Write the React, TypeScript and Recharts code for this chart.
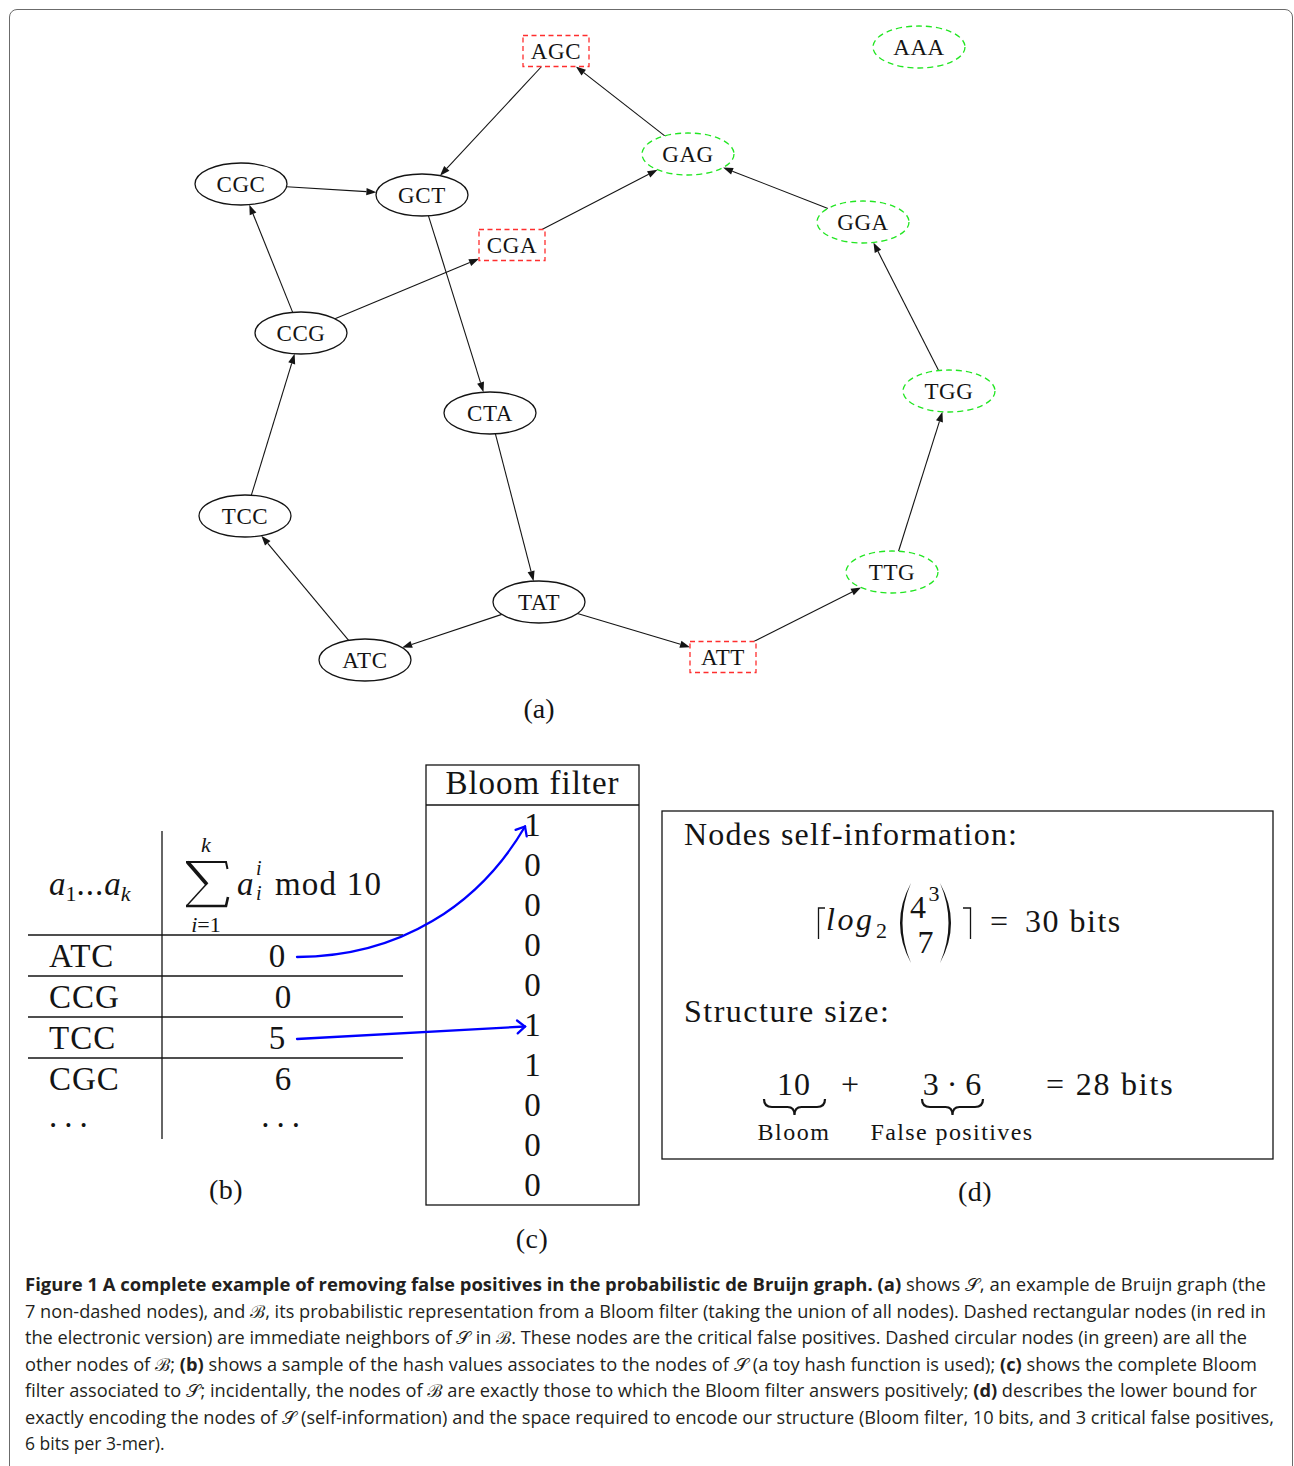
import React from 'react'
import { ScatterChart, Scatter, XAxis, YAxis, ReferenceLine } from 'recharts'

// (a) de Bruijn graph: node labels and their layout position in the figure
const nodeNames = ['AGC', 'AAA', 'GAG', 'CGC', 'GCT', 'CGA', 'GGA', 'CCG', 'TGG', 'CTA', 'TCC', 'TTG', 'TAT', 'ATC', 'ATT']
const nodeX = [556, 919, 688, 241, 422, 512, 863, 301, 949, 490, 245, 892, 539, 365, 723]
const nodeY = [51, 47, 154, 184, 195, 245, 222, 333, 391, 413, 516, 572, 602, 660, 657]
// S = node of S, C = critical false positive, B = other node of B
const nodeKinds = ['C', 'B', 'B', 'S', 'S', 'C', 'B', 'S', 'B', 'S', 'S', 'B', 'S', 'S', 'C']
const edges = [
  ['AGC', 'GCT'], ['GAG', 'AGC'], ['CGC', 'GCT'], ['CGA', 'GAG'], ['GGA', 'GAG'],
  ['CCG', 'CGC'], ['CCG', 'CGA'], ['GCT', 'CTA'], ['TGG', 'GGA'], ['TCC', 'CCG'],
  ['CTA', 'TAT'], ['ATC', 'TCC'], ['TAT', 'ATC'], ['TAT', 'ATT'], ['ATT', 'TTG'], ['TTG', 'TGG'],
]

// (b) hash table sample
const tableKmers = ['ATC', 'CCG', 'TCC', 'CGC']
const tableHashes = [0, 0, 5, 6]
const arrowRows = [0, 2]

// (c) Bloom filter bits
const bloomBits = [1, 0, 0, 0, 0, 1, 1, 0, 0, 0]

// caption, line by line: [text, bold]
const captionLines: [string, boolean][][] = [
  [['Figure 1 A complete example of removing false positives in the probabilistic de Bruijn graph.', true], [' ', false], ['(a)', true], [' shows 𝒮, an example de Bruijn graph (the', false]],
  [['7 non-dashed nodes), and ℬ, its probabilistic representation from a Bloom filter (taking the union of all nodes). Dashed rectangular nodes (in red in', false]],
  [['the electronic version) are immediate neighbors of 𝒮 in ℬ. These nodes are the critical false positives. Dashed circular nodes (in green) are all the', false]],
  [['other nodes of ℬ; ', false], ['(b)', true], [' shows a sample of the hash values associates to the nodes of 𝒮 (a toy hash function is used); ', false], ['(c)', true], [' shows the complete Bloom', false]],
  [['filter associated to 𝒮; incidentally, the nodes of ℬ are exactly those to which the Bloom filter answers positively; ', false], ['(d)', true], [' describes the lower bound for', false]],
  [['exactly encoding the nodes of 𝒮 (self-information) and the space required to encode our structure (Bloom filter, 10 bits, and 3 critical false positives,', false]],
  [['6 bits per 3-mer).', false]],
]
const captionRightEdge = [1266, 1266, 1247, 1257, 1257, 1274, 0]

const SERIF = '"Liberation Serif", "DejaVu Serif", serif'
const SANS = '"Open Sans", "Noto Sans", sans-serif'
const INK = '#141414'
const RED = '#ff2e2e'
const GREEN = '#22e622'

const RX = 46
const RY = 21
const RW = 66
const RH = 31

// distance from node centre to its outline along unit direction (ux, uy)
function outlineDist(kind: string, ux: number, uy: number) {
  if (kind === 'C') {
    return Math.min(RW / 2 / Math.max(Math.abs(ux), 1e-6), RH / 2 / Math.max(Math.abs(uy), 1e-6))
  }
  return 1 / Math.sqrt((ux / RX) ** 2 + (uy / RY) ** 2)
}

const NodeShape = (props: any) => {
  const { cx, cy, payload } = props
  const kind = payload.kind
  return (
    <g>
      {kind === 'C' ? (
        <rect x={cx - RW / 2} y={cy - RH / 2} width={RW} height={RH} fill="#fff"
          stroke={RED} strokeWidth={1.3} strokeDasharray="5 3.5" />
      ) : (
        <ellipse cx={cx} cy={cy} rx={RX} ry={RY} fill="#fff"
          stroke={kind === 'B' ? GREEN : INK} strokeWidth={1.3}
          strokeDasharray={kind === 'B' ? '6 4' : undefined} />
      )}
      <text x={cx} y={cy + 8} textAnchor="middle" fontFamily={SERIF} fontSize={23}
        letterSpacing={0.6} fill={INK}>{payload.name}</text>
    </g>
  )
}

const edgeShape = (fromKind: string, toKind: string) => (p: any) => {
  const { x1, y1, x2, y2 } = p
  const dx = x2 - x1
  const dy = y2 - y1
  const len = Math.hypot(dx, dy)
  const ux = dx / len
  const uy = dy / len
  const s = outlineDist(fromKind, ux, uy)
  const e = outlineDist(toKind, ux, uy)
  const sx = x1 + ux * s
  const sy = y1 + uy * s
  const tx = x2 - ux * e
  const ty = y2 - uy * e
  const bx = tx - ux * 10
  const by = ty - uy * 10
  return (
    <g>
      <line x1={sx} y1={sy} x2={bx} y2={by} stroke={INK} strokeWidth={1.1} />
      <polygon points={`${tx},${ty} ${bx - uy * 3.6},${by + ux * 3.6} ${bx + uy * 3.6},${by - ux * 3.6}`} fill={INK} />
    </g>
  )
}

const BitShape = (props: any) => {
  const { cx, cy, payload } = props
  return (
    <text x={cx} y={cy + 10.5} textAnchor="middle" fontFamily={SERIF} fontSize={33} fill={INK}>
      {payload.bit}
    </text>
  )
}

function chevron(tx: number, ty: number, vx: number, vy: number) {
  const l = Math.hypot(vx, vy)
  const ux = vx / l
  const uy = vy / l
  const a = 0.7
  const L = 10
  const r1x = -(ux * Math.cos(a) - uy * Math.sin(a)) * L
  const r1y = -(ux * Math.sin(a) + uy * Math.cos(a)) * L
  const r2x = -(ux * Math.cos(-a) - uy * Math.sin(-a)) * L
  const r2y = -(ux * Math.sin(-a) + uy * Math.cos(-a)) * L
  return `M${tx + r1x},${ty + r1y} L${tx},${ty} L${tx + r2x},${ty + r2y}`
}

const underbrace = (x1: number, x2: number, y: number) => {
  const m = (x1 + x2) / 2
  return `M${x1},${y} Q${x1},${y + 8} ${x1 + 8},${y + 8} L${m - 7},${y + 8} Q${m},${y + 8} ${m},${y + 16} Q${m},${y + 8} ${m + 7},${y + 8} L${x2 - 8},${y + 8} Q${x2},${y + 8} ${x2},${y}`
}

export default function App() {
  const nodeData = nodeNames.map((name, i) => ({ name, x: nodeX[i], y: nodeY[i], kind: nodeKinds[i] }))
  const byName: Record<string, any> = Object.fromEntries(nodeData.map((n) => [n.name, n]))
  const bloomData = bloomBits.map((bit, i) => ({ x: 0.5, y: i, bit }))

  const rowTop = (i: number) => 935 + 41 * i
  const rowMid = (i: number) => rowTop(i) + 20.5
  const bitMid = (h: number) => 825 + 40 * h

  const serifText = { fontFamily: SERIF, fill: INK }

  return (
    <div style={{ position: 'relative', width: 1294, height: 1466, overflow: 'hidden', background: '#fff' }}>
      <style>{'html, body { margin: 0; overflow: hidden; }'}</style>
      {/* figure frame */}
      <div style={{
        position: 'absolute', left: 9, top: 9, width: 1284, height: 1470, boxSizing: 'border-box',
        border: '1.5px solid #6b6b6b', borderRadius: 8,
      }} />

      {/* (a) graph */}
      <div style={{ position: 'absolute', left: 8, top: 8 }}>
        <ScatterChart width={1286} height={730} margin={{ top: 0, right: 0, bottom: 0, left: 0 }}>
          <XAxis type="number" dataKey="x" domain={[8, 1294]} hide />
          <YAxis type="number" dataKey="y" domain={[8, 738]} reversed hide width={0} />
          {edges.map(([a, b]) => (
            <ReferenceLine key={a + b} ifOverflow="visible"
              segment={[{ x: byName[a].x, y: byName[a].y }, { x: byName[b].x, y: byName[b].y }]}
              shape={edgeShape(byName[a].kind, byName[b].kind)} />
          ))}
          <Scatter data={nodeData} isAnimationActive={false} shape={NodeShape} />
        </ScatterChart>
      </div>

      {/* (c) bloom filter bits */}
      <div style={{ position: 'absolute', left: 426, top: 805 }}>
        <ScatterChart width={213} height={400} margin={{ top: 0, right: 0, bottom: 0, left: 0 }}>
          <XAxis type="number" dataKey="x" domain={[0, 1]} hide />
          <YAxis type="number" dataKey="y" domain={[-0.5, 9.5]} reversed hide width={0} />
          <Scatter data={bloomData} isAnimationActive={false} shape={BitShape} />
        </ScatterChart>
      </div>

      {/* tables, formulas, labels and caption in page coordinates */}
      <svg width={1294} height={1466} style={{ position: 'absolute', left: 0, top: 0, pointerEvents: 'none' }}>
        <text x={539} y={718} textAnchor="middle" fontSize={28} {...serifText}>(a)</text>

        {/* (b) */}
        <line x1={162} y1={831} x2={162} y2={1139} stroke={INK} strokeWidth={1.3} />
        {tableKmers.map((_, i) => (
          <line key={i} x1={28} x2={403} y1={rowTop(i)} y2={rowTop(i)} stroke={INK} strokeWidth={1.3} />
        ))}
        <text x={49} y={895} fontSize={33} {...serifText}>
          <tspan fontStyle="italic">a</tspan>
          <tspan fontSize={22} dy={6}>1</tspan>
          <tspan dy={-6} letterSpacing={1}>...</tspan>
          <tspan fontStyle="italic">a</tspan>
          <tspan fontSize={22} fontStyle="italic" dy={6}>k</tspan>
        </text>
        <g stroke={INK} fill="none" strokeLinecap="butt">
          <path d="M186,862 L226,862 L227.5,869" strokeWidth={2} />
          <path d="M187.5,862 L207,884.5" strokeWidth={3.6} />
          <path d="M207,883.5 L186.5,906" strokeWidth={1.5} />
          <path d="M186,906 L226,906 L228,897" strokeWidth={2.6} />
        </g>
        <text x={206} y={852} textAnchor="middle" fontSize={22} fontStyle="italic" {...serifText}>k</text>
        <text x={206} y={932} textAnchor="middle" fontSize={22} {...serifText}>
          <tspan fontStyle="italic">i</tspan>=1
        </text>
        <text x={237} y={895} fontSize={33} fontStyle="italic" {...serifText}>a</text>
        <text x={256} y={875} fontSize={20} fontStyle="italic" {...serifText}>i</text>
        <text x={256} y={900} fontSize={20} fontStyle="italic" {...serifText}>i</text>
        <text x={275} y={895} fontSize={33} letterSpacing={1.2} {...serifText}>mod 10</text>
        {tableKmers.map((k, i) => (
          <g key={k}>
            <text x={49} y={rowMid(i) + 11} fontSize={33} letterSpacing={1} {...serifText}>{k}</text>
            <text x={arrowRows.includes(i) ? 277 : 283} y={rowMid(i) + 11} textAnchor="middle" fontSize={33} {...serifText}>
              {tableHashes[i]}
            </text>
          </g>
        ))}
        <text x={49} y={1127} fontSize={33} letterSpacing={7} {...serifText}>...</text>
        <text x={284} y={1127} textAnchor="middle" fontSize={33} letterSpacing={7} {...serifText}>...</text>
        <text x={226} y={1199} textAnchor="middle" fontSize={28} letterSpacing={0.5} {...serifText}>(b)</text>

        {/* (c) */}
        <rect x={426} y={765} width={213} height={440} fill="none" stroke={INK} strokeWidth={1.3} />
        <line x1={426} x2={639} y1={805} y2={805} stroke={INK} strokeWidth={1.3} />
        <text x={532.5} y={794} textAnchor="middle" fontSize={33} letterSpacing={1} {...serifText}>Bloom filter</text>
        <text x={532} y={1248} textAnchor="middle" fontSize={28} letterSpacing={0.5} {...serifText}>(c)</text>

        {/* arrows from hash values to bits */}
        {arrowRows.map((r) => {
          const sx = 297
          const sy = rowMid(r) + 1.5
          const ex = 525
          const ey = bitMid(tableHashes[r]) + 1.5
          const curved = Math.abs(sy - ey) > 40
          const c1x = sx + 0.45 * (ex - sx)
          const c2x = ex - 0.2 * (ex - sx)
          const c2y = ey + 0.6 * (sy - ey)
          const d = curved ? `M${sx},${sy} C${c1x},${sy} ${c2x},${c2y} ${ex},${ey}` : `M${sx},${sy} L${ex},${ey}`
          const vx = curved ? ex - c2x : ex - sx
          const vy = curved ? ey - c2y : ey - sy
          return (
            <g key={r} stroke="#0000ff" strokeWidth={2.3} fill="none" strokeLinecap="round">
              <path d={d} />
              <path d={chevron(ex, ey, vx, vy)} />
            </g>
          )
        })}

        {/* (d) */}
        <rect x={662} y={811} width={611} height={348} fill="none" stroke={INK} strokeWidth={1.3} />
        <text x={684} y={845} fontSize={32} letterSpacing={1.2} {...serifText}>Nodes self-information:</text>
        <path d="M825,908 L818.5,908 L818.5,939" stroke={INK} strokeWidth={1.3} fill="none" />
        <text x={826} y={930} fontSize={32} fontStyle="italic" letterSpacing={2.5} {...serifText}>log</text>
        <text x={876} y={938} fontSize={22} {...serifText}>2</text>
        <path d="M911,883 Q889,923 911,963 Q894,923 911,883 Z" fill={INK} />
        <path d="M940,883 Q962,923 940,963 Q957,923 940,883 Z" fill={INK} />
        <text x={910} y={918} fontSize={32} {...serifText}>4</text>
        <text x={928.5} y={901} fontSize={22} {...serifText}>3</text>
        <text x={925.5} y={953} textAnchor="middle" fontSize={32} {...serifText}>7</text>
        <path d="M963,908 L970.5,908 L970.5,939" stroke={INK} strokeWidth={1.3} fill="none" />
        <text x={990} y={932} fontSize={32} {...serifText}>=</text>
        <text x={1025} y={932} fontSize={32} letterSpacing={1.5} {...serifText}>30 bits</text>

        <text x={684} y={1022} fontSize={32} letterSpacing={1.5} {...serifText}>Structure size:</text>
        <text x={794} y={1095} textAnchor="middle" fontSize={32} letterSpacing={1} {...serifText}>10</text>
        <text x={850} y={1095} textAnchor="middle" fontSize={32} {...serifText}>+</text>
        <text x={952} y={1095} textAnchor="middle" fontSize={32} {...serifText}>3 · 6</text>
        <text x={1046} y={1095} fontSize={32} letterSpacing={1.8} {...serifText}>= 28 bits</text>
        <path d={underbrace(764, 825, 1099)} stroke={INK} strokeWidth={2.2} fill="none" />
        <path d={underbrace(922, 983, 1099)} stroke={INK} strokeWidth={2.2} fill="none" />
        <text x={794} y={1140} textAnchor="middle" fontSize={24} letterSpacing={1.5} {...serifText}>Bloom</text>
        <text x={952} y={1140} textAnchor="middle" fontSize={24} letterSpacing={1.4} {...serifText}>False positives</text>
        <text x={975} y={1201} textAnchor="middle" fontSize={28} letterSpacing={0.5} {...serifText}>(d)</text>

        {/* caption */}
        {captionLines.map((segs, i) => {
          const right = captionRightEdge[i]
          const fit = right ? { textLength: right - 25, lengthAdjust: 'spacingAndGlyphs' } : {}
          return (
            <text key={i} x={25} y={1291 + 26.55 * i} fontFamily={SANS} fontSize={17.5} fill="#231f20" {...(fit as any)}>
              {segs.map(([t, b], j) => (
                <tspan key={j} fontWeight={b ? 700 : 400}>{t}</tspan>
              ))}
            </text>
          )
        })}
      </svg>
    </div>
  )
}
